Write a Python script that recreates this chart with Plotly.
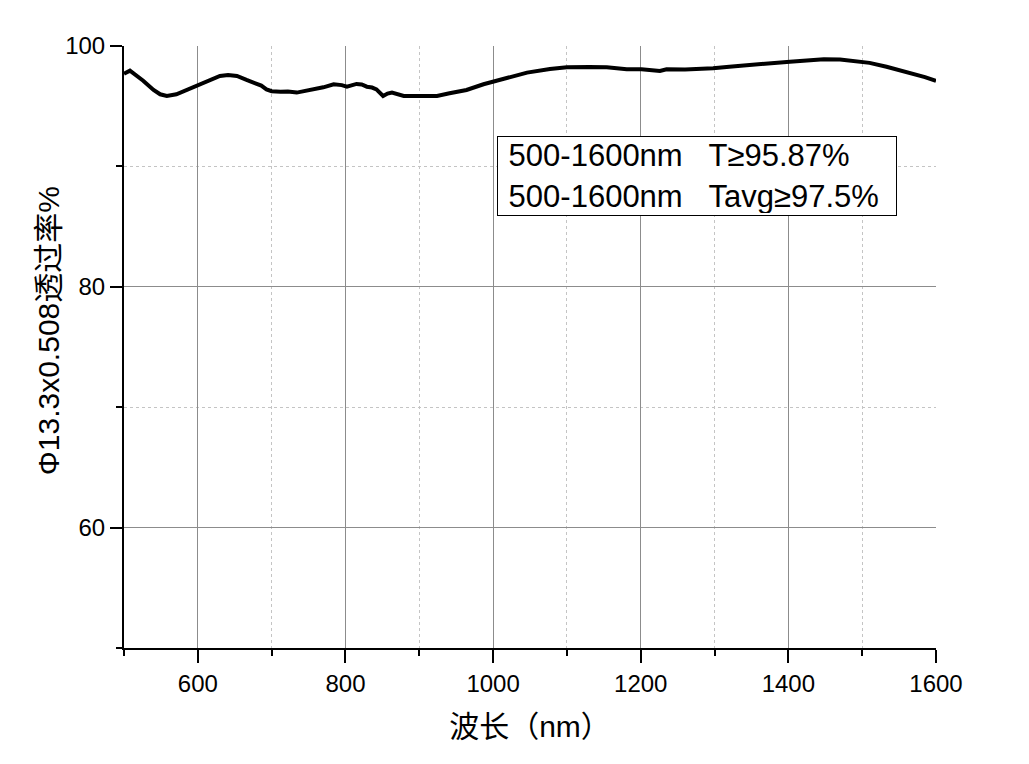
import plotly.graph_objects as go

wavelength = [500, 508, 526, 540, 549, 558, 571, 585, 601, 616, 630, 641, 653, 666, 675, 686, 693,
              700, 712, 722, 734, 745, 752, 762, 770, 784, 795, 802, 815, 822, 829, 836, 842, 851,
              857, 863, 870, 879, 901, 924, 941, 964, 987, 1000, 1018, 1046, 1077, 1100, 1130, 1154,
              1181, 1201, 1226, 1235, 1260, 1281, 1298, 1320, 1344, 1370, 1402, 1425, 1448, 1470,
              1488, 1510, 1533, 1550, 1569, 1585, 1600]
transmittance = [97.7, 97.95, 97.12, 96.35, 95.99, 95.85, 95.99, 96.35, 96.76, 97.23, 97.51, 97.59,
                 97.51, 97.18, 96.96, 96.71, 96.4,
                 96.25, 96.2, 96.22, 96.13, 96.25, 96.4, 96.5, 96.57, 96.82, 96.75, 96.62, 96.85,
                 96.8, 96.62, 96.55, 96.4, 95.85,
                 96.05, 96.13, 96.0, 95.85, 95.85, 95.85, 96.07, 96.35, 96.82, 97.04, 97.37, 97.79,
                 98.09, 98.23, 98.25, 98.23,
                 98.07, 98.07, 97.93, 98.07, 98.05, 98.07, 98.15, 98.28, 98.42, 98.55, 98.7, 98.8,
                 98.9, 98.88, 98.78, 98.6, 98.28, 98.02, 97.73, 97.42, 97.1]

x_major = [600, 800, 1000, 1200, 1400, 1600]
x_minor = [500, 700, 900, 1100, 1300, 1500]
x_grid = [600, 800, 1000, 1200, 1400]
y_major = [60, 80, 100]
y_minor = [50, 70, 90]
y_grid = [60, 80]
x_range = [500, 1600]
y_range = [50, 100]

x_title = "波长（nm）"
y_title = "Φ13.3x0.508透过率%"
note_text = ("\u00a0500-1600nm\u00a0\u00a0\u00a0T≥95.87%<br>"
             "\u00a0500-1600nm\u00a0\u00a0\u00a0Tavg≥97.5%")

font_main = "Arial, 'Liberation Sans', 'Noto Sans CJK SC', sans-serif"

fig = go.Figure()
fig.add_trace(go.Scatter(x=wavelength, y=transmittance, mode="lines",
                         line=dict(color="black", width=4), showlegend=False,
                         hoverinfo="skip"))
fig.add_trace(go.Scatter(x=[], y=[], xaxis="x2", yaxis="y2", showlegend=False,
                         hoverinfo="skip"))

fig.update_layout(
    width=1029, height=764,
    margin=dict(l=116, r=101, t=38, b=124, autoexpand=False),
    paper_bgcolor="white", plot_bgcolor="white",
    font=dict(family=font_main, color="black", size=24),
    xaxis=dict(
        range=x_range, showgrid=False, zeroline=False,
        showline=True, linecolor="black", linewidth=2,
        tickmode="array", tickvals=x_major, ticks="outside", ticklen=13, tickwidth=2,
        tickcolor="black", tickfont=dict(size=24),
        minor=dict(tickmode="array", tickvals=x_minor, ticks="outside", ticklen=6,
                   tickwidth=2, tickcolor="black", showgrid=True, gridcolor="#c4c4c4",
                   griddash="dot", gridwidth=1),
        title=dict(text=x_title, font=dict(size=30), standoff=20),
    ),
    yaxis=dict(
        range=y_range, showgrid=False, zeroline=False,
        showline=True, linecolor="black", linewidth=2,
        tickmode="array", tickvals=y_major, ticks="outside", ticklen=12, tickwidth=2,
        tickcolor="black", tickfont=dict(size=24),
        minor=dict(tickmode="array", tickvals=y_minor, ticks="outside", ticklen=6,
                   tickwidth=2, tickcolor="black", showgrid=True, gridcolor="#c4c4c4",
                   griddash="dot", gridwidth=1),
    ),
    xaxis2=dict(range=x_range, overlaying="x", anchor="y2", showgrid=True,
                gridcolor="#8c8c8c", gridwidth=1, tickmode="array", tickvals=x_grid,
                showticklabels=False, ticks="", showline=False, zeroline=False),
    yaxis2=dict(range=y_range, overlaying="y", anchor="x2", showgrid=True,
                gridcolor="#8c8c8c", gridwidth=1, tickmode="array", tickvals=y_grid,
                showticklabels=False, ticks="", showline=False, zeroline=False),
    annotations=[
        dict(
            xref="paper", yref="paper", x=0.4594, y=0.8505, xanchor="left", yanchor="top",
            text=note_text, showarrow=False, align="left",
            font=dict(size=31, family=font_main, color="black"),
            bordercolor="black", borderwidth=1, borderpad=2, bgcolor="white",
            width=394, height=74,
        ),
        dict(
            xref="paper", yref="paper", x=-0.0936, y=0.528, xanchor="center",
            yanchor="middle", text=y_title, textangle=-90, showarrow=False,
            font=dict(size=30, family=font_main, color="black"),
        ),
    ],
)

fig.write_html("out.html")
